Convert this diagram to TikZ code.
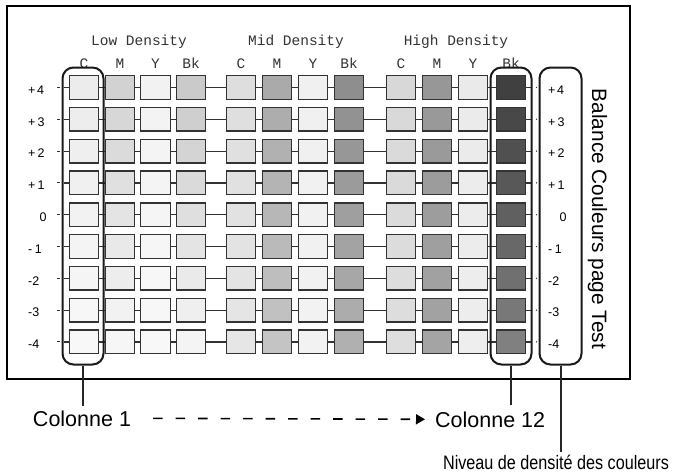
\documentclass[tikz,border=0pt]{standalone}
\usepackage{fontspec}
\setmainfont{Liberation Sans}
\newfontfamily\monofont{Liberation Mono}
\newfontfamily\narrowfont[FakeStretch=0.83]{Liberation Sans}
\usetikzlibrary{arrows.meta}
\definecolor{edge}{HTML}{333333}
\begin{document}
\begin{tikzpicture}[x=1pt,y=-1pt,
  patch/.style={draw=edge, line width=1.4pt, minimum width=29.5pt, minimum height=23.5pt, inner sep=0pt},
  rowline/.style={draw=edge, line width=1.2pt},
  bracket/.style={draw=black!90, line width=2pt, rounded corners=11pt, minimum width=41pt, minimum height=297pt, inner sep=0pt},
  lead/.style={draw=black!85, line width=2pt},
  lbl/.style={font=\fontsize{12.5}{14}\selectfont, inner sep=0pt, text=black},
  head/.style={font=\fontsize{14.5}{16}\monofont, inner sep=0pt, text=black!80},
  letter/.style={font=\fontsize{14.5}{16}\monofont, inner sep=0pt, text=black!80},
  big/.style={font=\fontsize{21.5}{24}\selectfont, inner sep=0pt},
  titletext/.style={font=\fontsize{20.8}{24}\selectfont, inner sep=0pt},
  narrowtext/.style={font=\fontsize{19.5}{22}\narrowfont, inner sep=0pt}]
\useasboundingbox (0,0) rectangle (677,472);
\fill[white] (0,0) rectangle (677,472);
% frame
\draw[line width=2pt, black] (7,6) rectangle (630,379);
% headers
\node[head, anchor=base] (hlow) at (139,45) {Low Density};
\node[head, anchor=base] (hmid) at (296,45) {Mid Density};
\node[head, anchor=base] (hhigh) at (456,45) {High Density};
% patches
\foreach \c/\x/\pt/\pb/\t in {1/84/7.5/2.7/C, 2/120/17.6/3.5/M, 3/155.5/5.1/2.7/Y, 4/191/20.8/4.3/Bk,
  5/241/12.9/9.8/C, 6/277/33.3/23.1/M, 7/313/5.9/5.1/Y, 8/349/44.3/31/Bk,
  9/401/15.3/12.9/C, 10/437/40.8/35.7/M, 11/473/8.2/6.7/Y, 12/511/74.9/49.8/Bk} {
  \node[letter, anchor=base] (let-\c) at (\x,68) {\t};
  \foreach \r in {0,...,8} {
    \pgfmathsetmacro\p{\pt+(\pb-\pt)*\r/8}
    \pgfmathsetmacro\y{87.5+31.8*\r}
    \node[patch, fill=black!\p] (b-\r-\c) at (\x,\y) {};
  }
}
% row lines and labels
\foreach \r/\lt/\lx/\la in {0/{+\kern1.5pt4}/28/west, 1/{+\kern2pt3}/28/west, 2/{+\kern2pt2}/28/west,
  3/{+\kern2pt1}/28/west, 4/0/43/center, 5/{-\kern2.5pt1}/28/west, 6/{-2}/28/west, 7/{-3}/28/west, 8/{-4}/28/west} {
  \pgfmathsetmacro\y{87.5+31.8*\r}
  \pgfmathsetmacro\rx{\lx+520}
  \foreach \c [evaluate=\c as \n using int(\c+1)] in {1,...,11} {
    \draw[rowline] (b-\r-\c) -- (b-\r-\n);
  }
  \coordinate (ta-\r) at (57,\y);
  \coordinate (tb-\r) at (60,\y);
  \coordinate (lt-\r) at (64,\y);
  \coordinate (rt-\r) at (531,\y);
  \coordinate (rd-\r) at (536.5,\y);
  \draw[rowline, line width=1pt] (ta-\r) -- (tb-\r);
  \draw[rowline] (lt-\r) -- (b-\r-1);
  \draw[rowline] (b-\r-12) -- (rt-\r);
  \fill[edge] (rd-\r) circle (0.7pt);
  \node[lbl, anchor=\la] (ll-\r) at (\lx,\y+2.5) {\lt};
  \node[lbl, anchor=\la] (rl-\r) at (\rx,\y+2.5) {\lt};
}
% brackets
\node[bracket] (col1) at (83,216) {};
\node[bracket] (col12) at (511,216) {};
\node[bracket, minimum width=42pt] (levels) at (560.5,216) {};
% title
\node[titletext, rotate=-90, anchor=base] (title) at (592,219) {Balance Couleurs page Test};
% callouts
\coordinate (c1end) at (83,406);
\coordinate (c12end) at (511,405);
\coordinate (lvend) at (560.5,452);
\draw[lead] (col1.south) -- (c1end);
\draw[lead] (col12.south) -- (c12end);
\draw[lead] (levels.south) -- (lvend);
\node[big, anchor=base] (t1) at (82,426) {Colonne 1};
\node[big, anchor=base west] (t12) at (435,427) {Colonne 12};
\node[narrowtext, anchor=base] (niv) at (556,469) {Niveau de densité des couleurs};
\draw[line width=1.6pt, dash pattern=on 9.5pt off 13pt, -{Triangle[length=9pt,width=10pt]}]
  ([xshift=22pt]t1.east) -- ([xshift=-10pt]t12.west);
\end{tikzpicture}
\end{document}
